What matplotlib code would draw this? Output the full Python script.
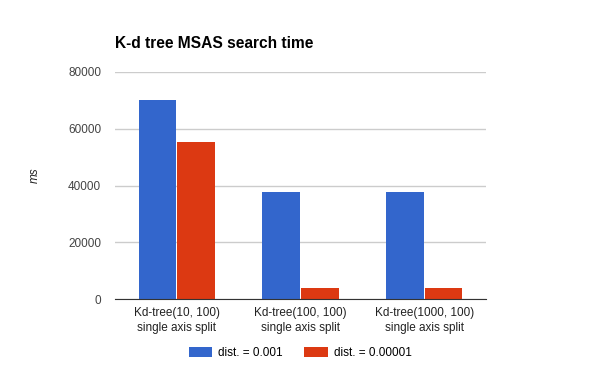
import numpy as np
import matplotlib.pyplot as plt

plt.rcParams['font.family'] = ['Liberation Sans', 'DejaVu Sans']

categories = ["Kd-tree(10, 100)\nsingle axis split",
              "Kd-tree(100, 100)\nsingle axis split",
              "Kd-tree(1000, 100)\nsingle axis split"]
series_names = ["dist. = 0.001", "dist. = 0.00001"]
dist_001 = [70000, 37700, 37700]
dist_00001 = [55300, 3900, 3900]
yticks = [0, 20000, 40000, 60000, 80000]

blue = '#3366CC'
red = '#DC3912'

fig = plt.figure(figsize=(6, 3.71), dpi=100)
ax = fig.add_axes([115/600, 1-299/371, 371/600, 227/371])

x = np.arange(len(categories))
w = 0.305
ax.bar(x - w/2 - 0.004, dist_001, w, color=blue, label=series_names[0], zorder=2)
ax.bar(x + w/2 + 0.004, dist_00001, w, color=red, label=series_names[1], zorder=2)

ax.set_xlim(-0.5, 2.5)
ax.set_ylim(0, 80000)
ax.set_yticks(yticks)
ax.set_yticklabels([str(v) for v in yticks])
ax.set_xticks(x)
ax.set_xticklabels(categories, linespacing=1.3)
ax.tick_params(axis='both', length=0, labelsize=8.5, colors='#222222')
ax.tick_params(axis='y', pad=10, labelcolor='#444444')
ax.tick_params(axis='x', pad=6)
ax.grid(axis='y', color='#CCCCCC', linewidth=1, zorder=0)
for s in ['top', 'right', 'left']:
    ax.spines[s].set_visible(False)
ax.spines['bottom'].set_color('#333333')
ax.spines['bottom'].set_zorder(3)

fig.text(115/600, 1-44/371, "K-d tree MSAS search time", fontsize=11.2,
         fontweight='bold', va='center', ha='left')
fig.text(35/600, 1-175/371, "ms", fontsize=8.5, style='italic',
         rotation=90, va='center', ha='center', color='#222222')

fig.legend(loc='center', bbox_to_anchor=(0.5, 1-353/371), ncol=2,
           frameon=False, fontsize=8.5, handlelength=2.0, handleheight=1.0,
           handletextpad=0.5, columnspacing=1.8)

fig.savefig('out.png', dpi=100)
